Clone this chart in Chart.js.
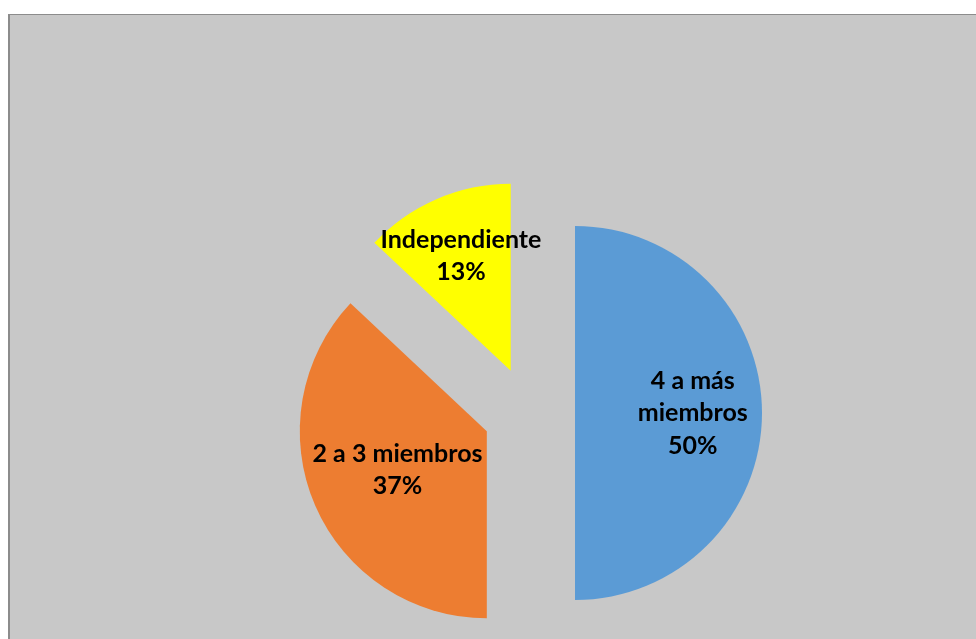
<meta charset="utf-8">
<style>
  * { margin: 0; padding: 0; box-sizing: content-box; }
  body { background: #ffffff; width: 976px; height: 639px; overflow: hidden; }
  #frame {
    position: absolute;
    left: 8px;
    top: 14px;
    width: 966px;
    height: 624px;
    background: #c8c8c8;
    border-top: 1px solid #8c8c8c;
    border-left: 2px solid #8c8c8c;
  }
  .chartBox { position: relative; width: 966px; height: 624px; }
</style>

<div id="frame">
  <div class="chartBox">
    <canvas id="myChart"></canvas>
  </div>
</div>

<script src="https://cdn.jsdelivr.net/npm/chart.js/dist/chart.umd.min.js"></script>
<script>
  // setup
  const categories = ['4 a más miembros', '2 a 3 miembros', 'Independiente'];
  const percents = [50, 37, 13];
  const sliceColors = ['#5b9bd5', '#ed7d31', '#ffff00'];

  // pull every slice out from the centre, drawing each arc ourselves
  const explodePlugin = {
    id: 'explode',
    beforeDatasetDraw(chart, args, opts) {
      const ctx = chart.ctx;
      args.meta.data.forEach(arc => {
        const mid = (arc.startAngle + arc.endAngle) / 2;
        ctx.save();
        ctx.translate(Math.cos(mid) * opts.distance, Math.sin(mid) * opts.distance);
        arc.draw(ctx);
        ctx.restore();
      });
      return false;
    }
  };

  // "name / xx%" labels inside the slices, wrapped like the office labels
  const sliceLabels = {
    id: 'sliceLabels',
    afterDatasetsDraw(chart, args, opts) {
      const ctx = chart.ctx;
      const dist = chart.options.plugins.explode.distance;
      const meta = chart.getDatasetMeta(0);
      ctx.save();
      ctx.font = opts.font;
      ctx.fillStyle = '#000000';
      ctx.textAlign = 'center';
      ctx.textBaseline = 'middle';
      meta.data.forEach((arc, i) => {
        const mid = (arc.startAngle + arc.endAngle) / 2;
        const r = arc.outerRadius * opts.radius[i] + dist;
        const x = arc.x + Math.cos(mid) * r;
        const y = arc.y + Math.sin(mid) * r;
        // greedy word wrap
        const words = chart.data.labels[i].split(' ');
        const lines = [];
        let cur = '';
        words.forEach(w => {
          const test = cur ? cur + ' ' + w : w;
          if (cur && ctx.measureText(test).width > opts.wrap[i]) {
            lines.push(cur);
            cur = w;
          } else {
            cur = test;
          }
        });
        lines.push(cur);
        lines.push(chart.data.datasets[0].data[i] + '%');
        lines.forEach((t, k) => {
          ctx.fillText(t, x, y + (k - (lines.length - 1) / 2) * opts.lineHeight);
        });
      });
      ctx.restore();
    }
  };

  const config = {
    type: 'pie',
    data: {
      labels: categories,
      datasets: [{
        data: percents,
        backgroundColor: sliceColors,
        borderWidth: 0,
        radius: 187
      }]
    },
    options: {
      responsive: true,
      maintainAspectRatio: false,
      animation: false,
      layout: { padding: { left: 72, top: 172, right: 0, bottom: 0 } },
      plugins: {
        legend: { display: false },
        tooltip: { enabled: false },
        explode: { distance: 46 },
        sliceLabels: {
          font: 'bold 25px Lato',
          lineHeight: 32.5,
          radius: [0.63, 0.52, 0.67],
          wrap: [130, 240, 240]
        }
      }
    },
    plugins: [explodePlugin, sliceLabels]
  };

  // render init block
  const myChart = new Chart(document.getElementById('myChart'), config);
</script>
